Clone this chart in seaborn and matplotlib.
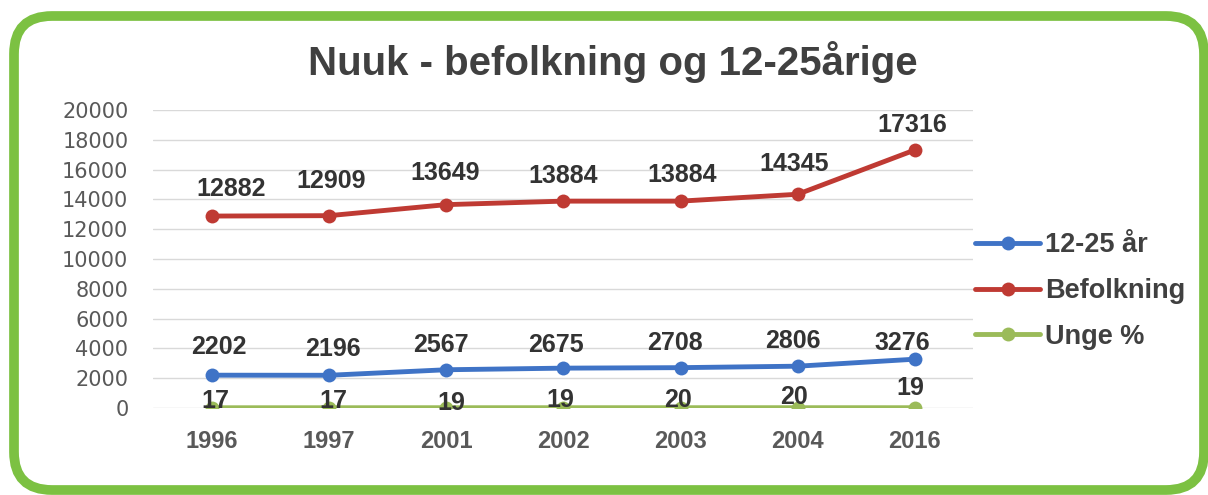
import numpy as np
import pandas as pd
import matplotlib
matplotlib.use("Agg")
import matplotlib.pyplot as plt
import seaborn as sns
from matplotlib.patches import FancyBboxPatch

# Chart data
years = ["1996", "1997", "2001", "2002", "2003", "2004", "2016"]
unge_antal = [2202, 2196, 2567, 2675, 2708, 2806, 3276]
befolkning = [12882, 12909, 13649, 13884, 13884, 14345, 17316]
unge_pct = [17, 17, 19, 19, 20, 20, 19]

series_names = ["12-25 år", "Befolkning", "Unge %"]
series_values = [unge_antal, befolkning, unge_pct]
series_colors = ["#3F73C6", "#BF3A33", "#9BBB59"]

# hand placed data labels (pixel offsets from the marker, like in the original)
label_dx = [[7, 4, -5, -7, -6, -5, -13],
            [19, 2, -1, 0, 2, -4, -3],
            [3, 4, 5, -3, -3, -4, -5]]
label_dy = [[30, 28, 27, 25, 27, 27, 18],
            [29, 37, 34, 27, 28, 32, 27],
            [9, 9, 7, 10, 10, 13, 22]]

sns.set_style("white")
plt.rcParams["font.family"] = ["Liberation Sans", "DejaVu Sans"]

fig = plt.figure(figsize=(12.08, 4.95), dpi=100)

# background axes holding the green rounded frame
bg = fig.add_axes([0, 0, 1, 1], zorder=-1)
bg.set_xlim(0, 1208)
bg.set_ylim(495, 0)
bg.axis("off")
frame = FancyBboxPatch((14, 16), 1190, 474,
                       boxstyle="round,pad=0,rounding_size=38",
                       facecolor="white", edgecolor="#7CC142", linewidth=7)
bg.add_patch(frame)

ax = fig.add_axes([153.4 / 1208, 1 - 408 / 495, 820 / 1208, 298 / 495])
ax.set_facecolor("none")

x = np.arange(len(years))
for name, vals, col, dxs, dys in zip(series_names, series_values, series_colors,
                                     label_dx, label_dy):
    df = pd.DataFrame({"x": x, "y": vals})
    sns.lineplot(data=df, x="x", y="y", ax=ax, color=col, linewidth=3.5,
                 marker="o", markersize=10, markeredgewidth=0, label=name,
                 zorder=3)
    for xi, v, dx, dy in zip(x, vals, dxs, dys):
        ax.annotate(str(v), (xi, v), xytext=(dx, dy - 9),
                    textcoords="offset pixels", ha="center", va="baseline",
                    fontsize=18, fontweight="bold", color="#333333", zorder=4)

ax.set_xlim(-0.5, len(years) - 0.5)
ax.set_ylim(0, 20000)
ax.set_yticks(np.arange(0, 20001, 2000))
ax.set_yticklabels([str(v) for v in range(0, 20001, 2000)],
                   fontfamily="DejaVu Sans", fontsize=15, color="#595959")
ax.set_xticks(x)
ax.set_xticklabels(years, fontsize=17, fontweight="bold", color="#595959")
ax.tick_params(axis="y", length=0, pad=18)
ax.tick_params(axis="x", length=0, pad=16)
ax.set_xlabel("")
ax.set_ylabel("")
ax.yaxis.grid(True, color="#D9D9D9", linewidth=1)
ax.set_axisbelow(True)
for s in ax.spines.values():
    s.set_visible(False)

handles, labels = ax.get_legend_handles_labels()
leg = ax.legend(handles, labels, loc="center left",
                bbox_to_anchor=(975 / 1208, 1 - 291 / 495),
                bbox_transform=fig.transFigure, frameon=False,
                borderpad=0, borderaxespad=0, handlelength=2.4,
                handletextpad=0.2, labelspacing=0.73,
                prop={"size": 19.5, "weight": "bold"})
for t in leg.get_texts():
    t.set_color("#404040")

fig.text(0.507, 0.875, "Nuuk - befolkning og 12-25årige", ha="center",
         va="center", fontsize=29, fontweight="bold", color="#404040")

fig.savefig("out.png", dpi=100)
